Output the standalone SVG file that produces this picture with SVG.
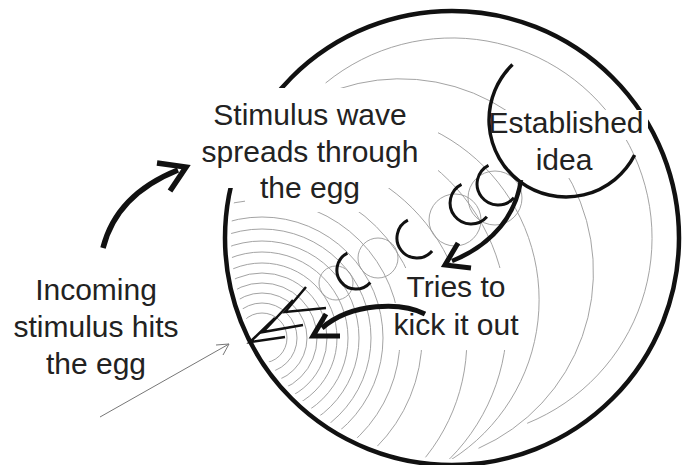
<svg xmlns="http://www.w3.org/2000/svg" width="682" height="465" viewBox="0 0 682 465">
<style>
.t{font-family:"Liberation Sans",Arial,sans-serif;font-size:30px;fill:#222;text-anchor:middle}
.w{fill:none;stroke:#999;stroke-width:0.9}
.k{fill:none;stroke:#111;stroke-linecap:butt;stroke-linejoin:miter;stroke-miterlimit:10}
.c{fill:none;stroke:#111;stroke-width:3}
</style>
<defs>
<clipPath id="eggIn"><circle cx="452" cy="238" r="221"/></clipPath>
<mask id="txt" maskUnits="userSpaceOnUse" x="0" y="0" width="682" height="465">
<rect width="682" height="465" fill="#fff"/>
<rect x="190" y="88" width="248" height="100" fill="#000"/>
<rect x="245" y="188" width="135" height="24" fill="#000"/>
<rect x="484" y="110" width="164" height="30" fill="#000"/>
<rect x="526" y="140" width="76" height="38" fill="#000"/>
<rect x="404" y="268" width="104" height="35" fill="#000"/>
<rect x="388" y="303" width="138" height="47" fill="#000"/>
</mask>
</defs>
<rect width="682" height="465" fill="#fff"/>

<g id="waves" mask="url(#txt)">
<g clip-path="url(#eggIn)">
<path class="w" d="M325.6,83 A200,200 0 1 1 527.2,423.3"/>
<path class="w" d="M303.5,104.9 A193,193 0 1 1 478.5,448.3"/>
<path class="w" d="M241.6,145.2 A189,189 0 1 1 382.8,486.1"/>
<path class="w" d="M197,158.6 A197,197 0 1 1 344.2,514"/>
<path class="w" d="M172.7,186.8 A187,187 0 1 1 312.5,524.2"/>
<circle class="w" cx="266" cy="337" r="156"/>
<circle class="w" cx="262" cy="338" r="138"/>
<circle class="w" cx="262" cy="338" r="121"/>
<circle class="w" cx="262" cy="338" r="109"/>
<circle class="w" cx="262" cy="338" r="97"/>
<circle class="w" cx="262" cy="338" r="86"/>
<circle class="w" cx="262" cy="338" r="75"/>
<circle class="w" cx="262" cy="338" r="65"/>
<circle class="w" cx="262" cy="338" r="55"/>
<circle class="w" cx="262" cy="338" r="45"/>
<circle class="w" cx="262" cy="338" r="35"/>
<circle class="w" cx="262" cy="338" r="25"/>
<circle class="w" cx="336" cy="283" r="17"/>
<circle class="w" cx="378" cy="258" r="20"/>
<circle class="w" cx="455" cy="220" r="26"/>
<circle class="w" cx="495" cy="198" r="27"/>
</g>
</g>

<g id="egg" mask="url(#txt)">
<circle cx="452" cy="238" r="227" fill="none" stroke="#111" stroke-width="4.5"/>
</g>

<g id="wave-fronts">
<path class="c" d="M347.4,253.1 A19,19 0 1 0 370.3,282.5"/>
<path class="c" d="M407.9,220.2 A20,20 0 1 0 432.1,251.1"/>
<path class="c" d="M461.5,184.3 A21,21 0 1 0 486.9,216.8"/>
<path class="c" d="M488.5,165.3 A21,21 0 1 0 513.9,197.8"/>
</g>

<g id="established-idea">
<path d="M512.5,64.6 A77,77 0 1 0 634.6,155" fill="none" stroke="#111" stroke-width="3.5"/>
<text class="t" x="566" y="133">Established</text>
<text class="t" x="564" y="170">idea</text>
</g>

<g id="stimulus-wave">
<text class="t" x="310" y="125">Stimulus wave</text>
<text class="t" x="310" y="162">spreads through</text>
<text class="t" x="310" y="198">the egg</text>
</g>

<g id="incoming-stimulus">
<text class="t" x="96" y="300">Incoming</text>
<text class="t" x="96" y="337">stimulus hits</text>
<text class="t" x="96" y="374">the egg</text>
</g>

<g id="tries-to-kick">
<text class="t" x="456" y="297">Tries to</text>
<text class="t" x="456" y="335">kick it out</text>
</g>

<g id="connectors">
<path class="k" stroke-width="5.5" d="M103,248 C112,212 138,186 178,170"/>
<polyline class="k" stroke-width="5.5" points="157,163 186,167 170,191"/>
<path class="k" stroke-width="4.5" d="M521,180 C516,214 494,244 452,261"/>
<polyline class="k" stroke-width="5" points="458,243 445,265 471,268"/>
<path class="k" stroke-width="5" d="M425,314 C402,302 352,302 322,328"/>
<polyline class="k" stroke-width="5" points="326,314 313,336 340,336"/>
<polyline class="k" stroke-width="2.5" points="275,318 250,342 285,337"/>
<polyline class="k" stroke-width="2.5" points="293,300 263,332 303,325"/>
<polyline class="k" stroke-width="2.5" points="306,287 285,312 326,308"/>
<line x1="100" y1="417" x2="229" y2="344" stroke="#777" stroke-width="1"/>
<polyline points="216,345 229,344 223,355" fill="none" stroke="#777" stroke-width="1"/>
</g>
</svg>
